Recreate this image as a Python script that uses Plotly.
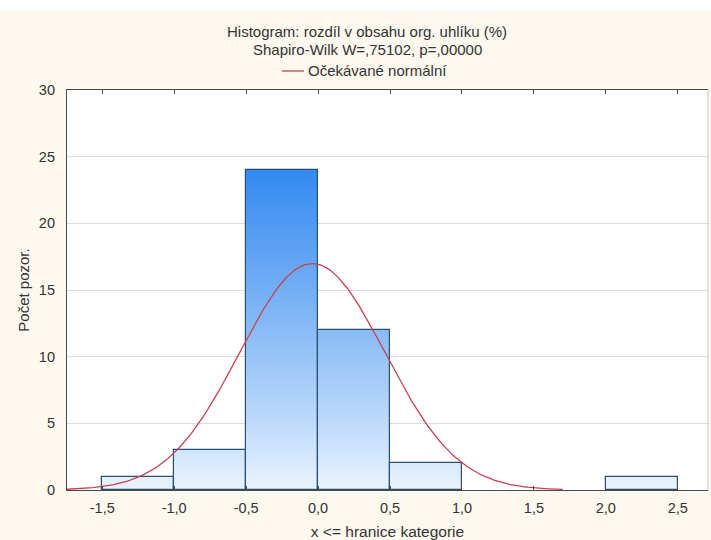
import numpy as np
import plotly.graph_objects as go

# ---- data ----
bin_left = [-1.5, -1.0, -0.5, 0.0, 0.5, 1.0, 1.5, 2.0]
bin_right = [-1.0, -0.5, 0.0, 0.5, 1.0, 1.5, 2.0, 2.5]
counts = [1, 3, 24, 12, 2, 0, 0, 1]
x_tick_vals = [-1.5, -1.0, -0.5, 0.0, 0.5, 1.0, 1.5, 2.0, 2.5]
x_tick_text = ["-1,5", "-1,0", "-0,5", "0,0", "0,5", "1,0", "1,5", "2,0", "2,5"]
y_tick_vals = [0, 5, 10, 15, 20, 25, 30]
y_tick_text = ["0", "5", "10", "15", "20", "25", "30"]
# expected normal curve parameters
norm_mean = -0.04
norm_sd = 0.505
n_obs = 43
curve_from, curve_to = -1.75, 1.7

title_1 = "Histogram: rozdíl v obsahu org. uhlíku (%)"
title_2 = "Shapiro-Wilk W=,75102, p=,00000"
legend_label = "Očekávané normální"
x_title = "x <= hranice kategorie"
y_title = "Počet pozor."

FONT = "Liberation Sans, Arial, sans-serif"
TXT = "#333333"

centers = [(a + b) / 2 for a, b in zip(bin_left, bin_right)]
widths = [b - a for a, b in zip(bin_left, bin_right)]
bw = widths[0]

fig = go.Figure()

# gradient fill: stacked thin slices, colour depends on height
top_c = np.array([52, 138, 241])
bot_c = np.array([236, 245, 254])
cmax = 24.0
dh = 0.2
nlev = int(np.ceil(max(counts) / dh))
for k in range(nlev):
    base = k * dh
    xs, ys, ws, bs = [], [], [], []
    for c, w, cnt in zip(centers, widths, counts):
        if cnt > base:
            xs.append(c)
            ys.append(min(dh, cnt - base) + (0.02 if cnt - base > dh else 0))
            ws.append(w)
            bs.append(base)
    if not xs:
        continue
    t = min((base + dh / 2) / cmax, 1.0)
    t = t ** 0.9
    col = bot_c + (top_c - bot_c) * t
    fig.add_trace(go.Bar(
        x=xs, y=ys, base=bs, width=ws,
        marker=dict(color="rgb(%d,%d,%d)" % tuple(col.astype(int)), line=dict(width=0)),
        showlegend=False, hoverinfo="skip",
    ))

# outlines
fig.add_trace(go.Bar(
    x=[c for c, n in zip(centers, counts) if n > 0],
    y=[n for n in counts if n > 0],
    width=[w for w, n in zip(widths, counts) if n > 0],
    marker=dict(color="rgba(0,0,0,0)", line=dict(color="#2b4f73", width=1.2)),
    showlegend=False,
))

# expected normal curve
xc = np.linspace(curve_from, curve_to, 300)
yc = n_obs * bw / (norm_sd * np.sqrt(2 * np.pi)) * np.exp(-0.5 * ((xc - norm_mean) / norm_sd) ** 2)
fig.add_trace(go.Scatter(x=xc, y=yc, mode="lines",
                         line=dict(color="#c8404f", width=1.3), showlegend=False))

fig.update_layout(
    width=711, height=540,
    margin=dict(l=67, r=3, t=90, b=50, autoexpand=False),
    paper_bgcolor="#fdf9ef",
    plot_bgcolor="#ffffff",
    barmode="overlay",
    bargap=0,
    font=dict(family=FONT, size=14, color=TXT),
    showlegend=False,
)

fig.update_xaxes(
    range=[-1.745, 2.71], automargin=False,
    tickvals=x_tick_vals, ticktext=x_tick_text,
    showgrid=False, zeroline=False,
    showline=True, linecolor="#4a4a4a", linewidth=1.2, mirror="ticks",
    ticks="inside", ticklen=4, tickcolor="#4a4a4a",
    tickfont=dict(size=14.5, color=TXT), ticklabelstandoff=4,
    title=dict(text=x_title, font=dict(size=15.5, color=TXT), standoff=13),
)
fig.update_yaxes(
    range=[0, 30], automargin=False,
    tickvals=y_tick_vals, ticktext=y_tick_text,
    showgrid=True, gridcolor="#dcdcdc", gridwidth=1,
    zeroline=False,
    showline=True, linecolor="#4a4a4a", linewidth=1.2,
    ticks="", ticklabelstandoff=8,
    tickfont=dict(size=14.5, color=TXT),
    title=dict(text=y_title, font=dict(size=15, color=TXT), standoff=5),
)

# right border (faint) and white strip at top
fig.add_shape(type="line", xref="paper", yref="paper", x0=1, x1=1, y0=0, y1=1,
              line=dict(color="#c8c8c8", width=1))
fig.add_shape(type="rect", xref="paper", yref="paper", x0=-67/641, x1=1+3/641,
              y0=1 + 80/400, y1=1 + 90/400, fillcolor="#ffffff", line=dict(width=0), layer="below")

# titles
fig.add_annotation(text=title_1, xref="paper", yref="paper", x=(367-67)/641, y=(490-32)/400,
                   showarrow=False, font=dict(size=15, color=TXT), yanchor="middle")
fig.add_annotation(text=title_2, xref="paper", yref="paper", x=(367-67)/641, y=(490-50)/400,
                   showarrow=False, font=dict(size=15, color=TXT), yanchor="middle")
# manual legend
fig.add_shape(type="line", xref="paper", yref="paper",
              x0=(282-67)/641, x1=(304-67)/641, y0=(490-71)/400, y1=(490-71)/400,
              line=dict(color="#c8404f", width=1.3))
fig.add_annotation(text=legend_label, xref="paper", yref="paper", x=(306-67)/641, y=(490-71)/400,
                   xanchor="left", showarrow=False, font=dict(size=15, color=TXT), yanchor="middle")

fig.write_html("out.html", config={"displayModeBar": False},
               post_script="document.body.style.margin='0';document.body.style.padding='0';")
